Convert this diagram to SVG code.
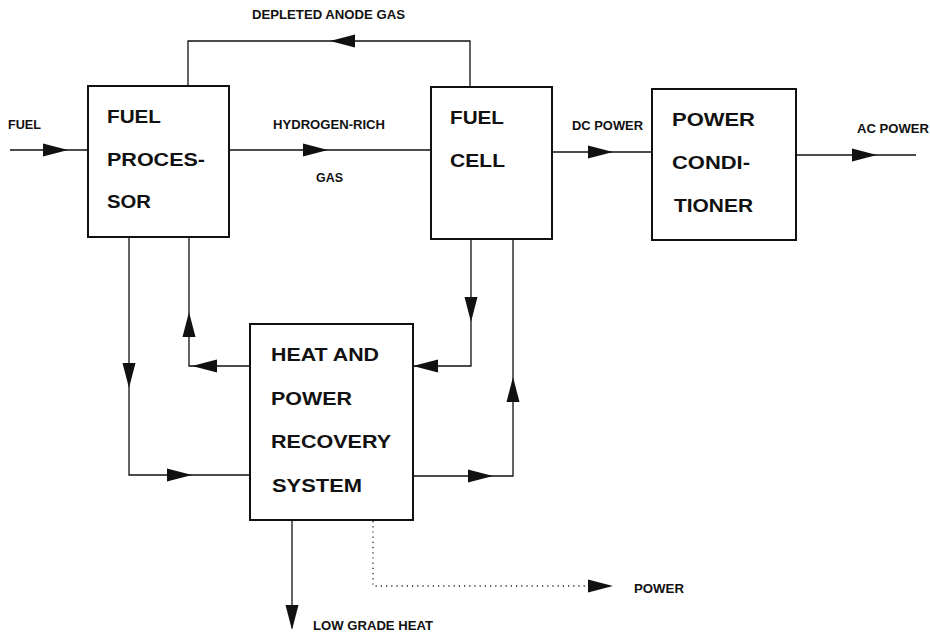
<svg xmlns="http://www.w3.org/2000/svg" xmlns:xlink="http://www.w3.org/1999/xlink" width="930" height="633" viewBox="0 0 930 633">
<style>
.box{fill:#fff;stroke:#111;stroke-width:2}
.ln{fill:none;stroke:#111;stroke-width:1.3}
.dot{fill:none;stroke:#222;stroke-width:1.3;stroke-dasharray:1.2 4}
.nt{font-family:"Liberation Sans",Arial,sans-serif;font-weight:bold;font-size:18px;fill:#111}
.lb{font-family:"Liberation Sans",Arial,sans-serif;font-weight:bold;font-size:12px;fill:#111}
</style>
<defs>
<path id="ah" d="M0,0 L-25,-6.5 L-25,6.5 Z" fill="#111"/>
</defs>
<rect width="930" height="633" fill="#fff"/>
<g id="connectors">
<polyline class="ln" points="10,150 88,150"/>
<polyline class="ln" points="229,150 431,150"/>
<polyline class="ln" points="470,87 470,41 188,41 188,86"/>
<polyline class="ln" points="552,152 652,152"/>
<polyline class="ln" points="796,155 916,155"/>
<polyline class="ln" points="129,237 129,475 250,475"/>
<polyline class="ln" points="250,366 189,366 189,237"/>
<polyline class="ln" points="471,239 471,366 413,366"/>
<polyline class="ln" points="413,476 513,476 513,239"/>
<polyline class="ln" points="292,520 292,628"/>
<polyline class="dot" points="373,521 373,586 590,586"/>
<use xlink:href="#ah" transform="translate(68,150)"/>
<use xlink:href="#ah" transform="translate(328,150)"/>
<use xlink:href="#ah" transform="translate(330,41) rotate(180)"/>
<use xlink:href="#ah" transform="translate(613,152)"/>
<use xlink:href="#ah" transform="translate(877,155)"/>
<use xlink:href="#ah" transform="translate(129,388) rotate(90)"/>
<use xlink:href="#ah" transform="translate(192,475)"/>
<use xlink:href="#ah" transform="translate(189,312) rotate(-90)"/>
<use xlink:href="#ah" transform="translate(192,366) rotate(180)"/>
<use xlink:href="#ah" transform="translate(471,322) rotate(90)"/>
<use xlink:href="#ah" transform="translate(413,366) rotate(180)"/>
<use xlink:href="#ah" transform="translate(513,377) rotate(-90)"/>
<use xlink:href="#ah" transform="translate(493,476)"/>
<use xlink:href="#ah" transform="translate(292,630) rotate(90)"/>
<use xlink:href="#ah" transform="translate(613,586)"/>
</g>
<g id="labels">
<text class="lb" x="252" y="19" textLength="153" lengthAdjust="spacingAndGlyphs">DEPLETED ANODE GAS</text>
<text class="lb" x="8" y="129" textLength="33" lengthAdjust="spacingAndGlyphs">FUEL</text>
<text class="lb" x="273" y="129" textLength="112" lengthAdjust="spacingAndGlyphs">HYDROGEN-RICH</text>
<text class="lb" x="316" y="182" textLength="27" lengthAdjust="spacingAndGlyphs">GAS</text>
<text class="lb" x="572" y="130" textLength="71" lengthAdjust="spacingAndGlyphs">DC POWER</text>
<text class="lb" x="857" y="133" textLength="72" lengthAdjust="spacingAndGlyphs">AC POWER</text>
<text class="lb" x="313" y="630" textLength="120" lengthAdjust="spacingAndGlyphs">LOW GRADE HEAT</text>
<text class="lb" x="634" y="593" textLength="50" lengthAdjust="spacingAndGlyphs">POWER</text>
</g>
<g id="fuel-processor">
<rect class="box" x="88" y="86" width="141" height="151"/>
<text class="nt" x="107" y="123" textLength="54" lengthAdjust="spacingAndGlyphs">FUEL</text>
<text class="nt" x="107" y="166" textLength="98" lengthAdjust="spacingAndGlyphs">PROCES-</text>
<text class="nt" x="107" y="208" textLength="44" lengthAdjust="spacingAndGlyphs">SOR</text>
</g>
<g id="fuel-cell">
<rect class="box" x="431" y="87" width="121" height="152"/>
<text class="nt" x="450" y="124" textLength="54" lengthAdjust="spacingAndGlyphs">FUEL</text>
<text class="nt" x="450" y="167" textLength="55" lengthAdjust="spacingAndGlyphs">CELL</text>
</g>
<g id="power-conditioner">
<rect class="box" x="652" y="89" width="144" height="151"/>
<text class="nt" x="672" y="126" textLength="83" lengthAdjust="spacingAndGlyphs">POWER</text>
<text class="nt" x="672" y="169" textLength="78" lengthAdjust="spacingAndGlyphs">CONDI-</text>
<text class="nt" x="674" y="212" textLength="79" lengthAdjust="spacingAndGlyphs">TIONER</text>
</g>
<g id="heat-recovery">
<rect class="box" x="250" y="324" width="163" height="196"/>
<text class="nt" x="271" y="361" textLength="108" lengthAdjust="spacingAndGlyphs">HEAT AND</text>
<text class="nt" x="271" y="405" textLength="81" lengthAdjust="spacingAndGlyphs">POWER</text>
<text class="nt" x="271" y="448" textLength="120" lengthAdjust="spacingAndGlyphs">RECOVERY</text>
<text class="nt" x="272" y="492" textLength="90" lengthAdjust="spacingAndGlyphs">SYSTEM</text>
</g>
</svg>
